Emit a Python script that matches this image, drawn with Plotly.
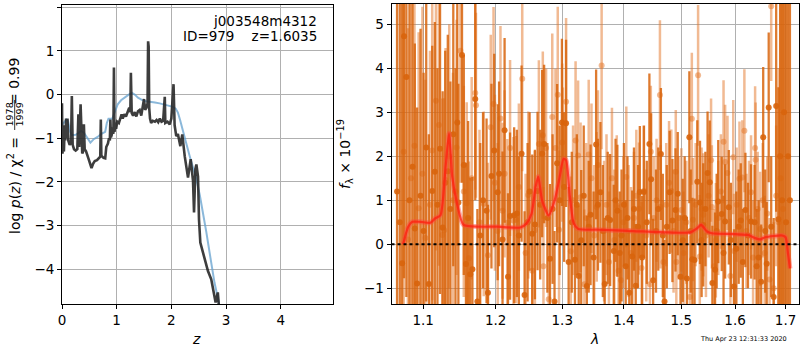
import plotly.graph_objects as go
import math

# ---------------- left panel: redshift probability ----------------
z_pz = [0.000, 0.008, 0.02, 0.035, 0.05, 0.06, 0.075, 0.085, 0.10, 0.115, 0.14, 0.165, 0.18, 0.195,
        0.22, 0.25, 0.28, 0.30, 0.315, 0.34, 0.355, 0.37, 0.385, 0.40, 0.415, 0.44, 0.48, 0.52, 0.54,
        0.57, 0.60, 0.64, 0.68, 0.70, 0.71, 0.72, 0.76, 0.79, 0.81, 0.84, 0.86, 0.875, 0.885, 0.895,
        0.91, 0.925, 0.94, 0.95, 0.96, 0.975, 0.99, 1.01, 1.04, 1.06, 1.09, 1.11, 1.14, 1.17, 1.20,
        1.23, 1.25, 1.26, 1.275, 1.30, 1.33, 1.36, 1.39, 1.42, 1.45, 1.48, 1.50, 1.52, 1.545, 1.565,
        1.575, 1.585, 1.595, 1.61, 1.63, 1.66, 1.70, 1.73, 1.76, 1.79, 1.82, 1.85, 1.88, 1.89, 1.93,
        1.97, 2.00, 2.04, 2.06, 2.09, 2.12, 2.165, 2.20, 2.245, 2.305, 2.354, 2.397, 2.415, 2.44,
        2.458, 2.488, 2.506, 2.53, 2.58, 2.62, 2.67, 2.73, 2.775, 2.81, 2.85, 2.87, 2.90]
logp = [-0.20, -1.35, -1.20, -1.30, -0.70, -1.05, -0.55, -1.00, -0.55, -1.05, -1.15, -1.10, -0.03, -1.15,
        -1.25, -1.28, -1.25, -0.45, -1.20, -0.22, -1.00, -1.35, -1.30, -0.68, -1.25, -1.30, -1.45, -1.62, -1.68,
        -1.58, -1.52, -1.50, -1.45, -1.42, -0.57, -1.40, -1.45, -1.46, -1.20, -1.12, -1.00, -1.05, -0.57, -0.98,
        -0.92, -0.75, -0.90, 0.62, -0.85, -0.70, -0.78, -0.62, -0.65, -0.55, -0.45, -0.55, -0.45, -0.50, -0.40,
        -0.30, -0.40, 0.50, -0.42, -0.48, -0.40, -0.50, -0.38, -0.35, -0.48, -0.28, -0.10, -0.35, -0.30, -0.20,
        1.22, 1.10, -0.30, -0.55, -0.65, -0.60, -0.62, -0.58, -0.63, -0.55, -0.62, -0.60, -0.05, -0.65, -0.62,
        -0.68, -0.55, 0.24, -0.70, -0.95, -0.90, -1.18, -0.91, -1.41, -1.90, -1.48, -1.98, -2.70, -1.70,
        -1.60, -1.88, -2.86, -3.39, -3.62, -3.85, -4.04, -4.23, -4.53, -4.76, -4.53, -5.00, -5.30]

z_prior = [0.0, 0.04, 0.08, 0.11, 0.15, 0.18, 0.25, 0.30, 0.35, 0.40, 0.45, 0.52, 0.58, 0.65, 0.72, 0.79,
           0.82, 0.85, 0.92, 0.97, 1.02, 1.08, 1.14, 1.22, 1.28, 1.33, 1.39, 1.46, 1.54, 1.62, 1.70, 1.787,
           1.87, 1.95, 2.03, 2.08, 2.12, 2.16, 2.21, 2.27, 2.336, 2.40, 2.458, 2.52, 2.58, 2.64, 2.70, 2.75,
           2.79, 2.85, 2.90, 2.95]
logp_prior = [-0.70, -0.62, -0.57, -0.60, -0.85, -0.93, -0.92, -0.88, -0.83, -0.87, -0.98, -1.10, -1.02,
              -0.97, -0.90, -0.85, -0.65, -0.55, -0.55, -0.38, -0.22, -0.13, -0.07, 0.00, 0.04, 0.00, -0.07,
              -0.12, -0.15, -0.16, -0.18, -0.20, -0.23, -0.26, -0.28, -0.32, -0.41, -0.58, -0.79, -1.10,
              -1.41, -1.68, -1.94, -2.30, -2.70, -3.15, -3.62, -4.00, -4.31, -4.65, -4.92, -5.30]

# ---------------- right panel: spectrum ----------------
wave_a = [1.066, 1.0695, 1.0725, 1.075, 1.078, 1.082, 1.086, 1.089, 1.092, 1.0965, 1.1005, 1.104, 1.1075,
          1.112, 1.1155, 1.119, 1.1225, 1.126, 1.1295, 1.133, 1.1365, 1.1405, 1.1435, 1.146, 1.1475, 1.1525,
          1.155, 1.158, 1.161, 1.164, 1.167, 1.171, 1.174, 1.178, 1.182, 1.187, 1.189, 1.194, 1.198, 1.203,
          1.205, 1.210, 1.213, 1.218, 1.221, 1.227, 1.231, 1.234, 1.238, 1.2425, 1.247, 1.250, 1.254, 1.258,
          1.262, 1.266, 1.269, 1.272, 1.277, 1.281, 1.285, 1.288, 1.292, 1.296, 1.2995, 1.303, 1.306, 1.310,
          1.315, 1.320, 1.323, 1.326, 1.330, 1.334, 1.339, 1.342, 1.345, 1.350, 1.354, 1.357, 1.361, 1.365,
          1.368, 1.373, 1.377, 1.383, 1.386, 1.389, 1.393, 1.396, 1.400, 1.403, 1.406, 1.409, 1.414, 1.417,
          1.420, 1.424, 1.427, 1.431, 1.434, 1.439, 1.4435, 1.4465, 1.450, 1.455, 1.459, 1.4636, 1.467, 1.470,
          1.474, 1.479, 1.484, 1.4895, 1.4935, 1.4985, 1.5025, 1.506, 1.510, 1.5145, 1.517, 1.520, 1.524,
          1.529, 1.534, 1.537, 1.540, 1.544, 1.548, 1.552, 1.557, 1.562, 1.565, 1.568, 1.5745, 1.578, 1.581,
          1.588, 1.592, 1.598, 1.6025, 1.607, 1.611, 1.615, 1.620, 1.625, 1.631, 1.638, 1.642, 1.646, 1.651,
          1.655, 1.659, 1.662, 1.666, 1.671, 1.676, 1.681, 1.6855, 1.689, 1.693, 1.697, 1.701, 1.705, 1.709]
flux_a = [1.2, 0.5, -0.43, 4.73, 3.80, 1.0, 1.76, 0.36, -0.89, 1.1, 0.3, 2.2, -0.90,
          1.21, 1.65, 0.9, 2.17, 0.38, 1.4, 1.66, 0.8, 2.50, 1.2, 2.77, 0.95, 4.30,
          1.8, -0.45, 0.6, -0.68, -0.57, 3.30, -1.30, 0.2, 1.0, 0.76, -1.10, 1.55, 2.13, 1.18,
          1.60, 0.11, 2.59, -0.74, 0.64, 0.66, 0.70, 0.2, 2.06, -1.15, 0.5, 1.2, 0.24, 0.45,
          1.21, 0.9, 2.06, 2.28, 0.6, -0.33, 0.8, -1.30, 1.84, 1.0, 2.77, 1.3, 2.75, -0.40,
          0.5, -0.35, 0.9, -0.72, 0.09, 1.1, -0.95, 0.4, 0.67, -0.30, 2.27, 0.9, 1.18, 0.3,
          -0.90, 0.6, 0.55, -0.15, 1.0, 0.76, -0.2, 0.20, 0.9, -0.50, 0.6, -1.10, -0.28, 0.8,
          -0.94, 0.4, 1.19, -0.3, 1.19, 0.5, 2.28, 1.48, -0.82, 0.3, 0.8, 2.05, 0.2, -1.30,
          0.4, 1.18, 0.54, 0.78, 1.15, -0.74, 0.09, 0.6, -0.78, 2.43, 0.3, -0.34, -0.36,
          1.42, 0.95, 0.1, 0.44, 0.8, 1.62, 1.41, -0.88, -0.58, 0.3, 0.97, 0.69, -0.2, 0.52,
          0.84, 0.1, -0.96, -0.10, 0.4, 0.54, -0.4, 0.78, 0.2, 0.52, 0.50, -0.5, -0.30, -0.85,
          2.43, 0.3, -0.44, 3.11, 0.4, -1.2, 3.14, 0.57, 2.0, 1.0, 3.0, 0.5, 2.0, 1.0]
err_a = [7.0, 6.5, 6.0, 5.5, 5.0, 4.8, 4.5, 4.2, 4.0, 3.8, 3.6, 3.5, 3.4,
         3.3, 3.4, 3.1, 3.3, 3.1, 3.0, 3.1, 2.9, 3.0, 2.8, 2.8, 2.7, 2.9,
         2.5, 2.3, 2.2, 2.2, 2.1, 2.3, 2.1, 2.1, 2.0, 2.1, 2.0, 2.1, 2.2, 2.0,
         2.1, 2.0, 2.1, 1.9, 1.9, 2.0, 1.9, 1.8, 2.0, 1.9, 1.8, 1.8, 1.8, 1.7,
         1.8, 1.7, 1.9, 1.8, 1.7, 1.7, 1.7, 1.6, 1.8, 1.7, 1.9, 1.7, 1.9, 1.7,
         1.6, 1.6, 1.6, 1.6, 1.6, 1.6, 1.6, 1.5, 1.6, 1.5, 1.7, 1.5, 1.6, 1.5,
         1.5, 1.5, 1.5, 1.5, 1.4, 1.5, 1.4, 1.5, 1.4, 1.5, 1.4, 1.4, 1.5, 1.4,
         1.4, 1.4, 1.5, 1.4, 1.5, 1.4, 1.6, 1.5, 1.4, 1.4, 1.4, 1.5, 1.4, 1.4,
         1.4, 1.4, 1.4, 1.4, 1.4, 1.4, 1.4, 1.4, 1.4, 1.5, 1.4, 1.4, 1.4,
         1.4, 1.4, 1.3, 1.4, 1.3, 1.4, 1.4, 1.3, 1.3, 1.3, 1.4, 1.3, 1.3, 1.3,
         1.3, 1.3, 1.3, 1.3, 1.3, 1.3, 1.2, 1.3, 1.2, 1.3, 1.3, 1.3, 1.3, 1.3,
         1.6, 1.4, 1.4, 1.7, 1.6, 1.8, 2.4, 3.0, 6.0, 7.0, 7.0, 8.0, 8.0, 8.0]

wave_b = [1.0745, 1.080, 1.084, 1.0885, 1.094, 1.099, 1.103, 1.109, 1.112, 1.117, 1.121, 1.1255, 1.128,
          1.130, 1.135, 1.140, 1.145, 1.1503, 1.155, 1.159, 1.162, 1.166, 1.171, 1.172, 1.177, 1.183, 1.189,
          1.193, 1.197, 1.199, 1.203, 1.207, 1.210, 1.213, 1.217, 1.221, 1.226, 1.230, 1.234, 1.239, 1.244,
          1.248, 1.254, 1.258, 1.264, 1.270, 1.271, 1.275, 1.279, 1.2845, 1.2895, 1.293, 1.295, 1.300, 1.301,
          1.306, 1.3135, 1.317, 1.321, 1.325, 1.329, 1.335, 1.338, 1.342, 1.3465, 1.351, 1.355, 1.357, 1.363,
          1.367, 1.371, 1.375, 1.380, 1.384, 1.388, 1.391, 1.395, 1.399, 1.404, 1.408, 1.412, 1.417, 1.421,
          1.4255, 1.430, 1.434, 1.438, 1.4445, 1.446, 1.451, 1.456, 1.4619, 1.463, 1.468, 1.473, 1.478, 1.482,
          1.486, 1.490, 1.491, 1.495, 1.500, 1.504, 1.509, 1.5153, 1.519, 1.521, 1.526, 1.5305, 1.5336, 1.537,
          1.540, 1.545, 1.550, 1.5545, 1.556, 1.560, 1.5635, 1.568, 1.573, 1.578, 1.581, 1.5855, 1.591, 1.5965,
          1.598, 1.603, 1.6085, 1.614, 1.618, 1.622, 1.627, 1.631, 1.635, 1.639, 1.640, 1.644, 1.649, 1.654,
          1.658, 1.663, 1.6677, 1.671, 1.676, 1.681, 1.686, 1.690, 1.695]
flux_b = [2.10, 0.11, 1.5, 2.24, 0.82, 1.6, 0.14, 0.90, 2.13, 3.26, 2.71, 0.21, 0.32,
          1.46, 2.0, 1.0, 2.2, 4.40, 1.2, 0.93, -0.32, 1.5, 3.44, 3.16, 0.5, 0.92, -0.25,
          2.66, 3.19, 1.40, 0.3, 2.86, 0.76, 1.6, 0.49, 2.19, 0.54, 0.56, 1.3, 3.76, -0.20,
          1.12, -0.60, 0.32, 2.28, 2.48, -0.50, 2.19, -1.25, 2.89, 2.19, 3.40, 0.33, 2.31, 1.76,
          3.24, -0.16, 1.0, 2.36, 2.02, 1.07, -0.91, 0.6, 2.04, 1.50, 0.2, 0.85, 1.80, 4.06,
          0.3, 0.9, -0.4, 1.50, 0.1, 0.88, -0.6, -0.82, 0.5, 1.53, 0.3, -0.2, 0.6, 1.1,
          0.81, -0.54, 1.21, 0.2, -0.91, 2.10, 0.6, 1.0, 3.39, 0.85, -0.4, 0.9, 1.40, 1.21,
          0.3, 1.65, -0.40, 0.6, 0.78, -0.2, 0.5, -1.20, 2.85, 0.56, 0.9, 3.84, -0.28, 0.8,
          0.67, 0.2, 1.1, 1.91, 0.85, -0.5, 0.09, 0.6, 1.2, 2.33, 1.87, 1.62, -0.72, 1.98,
          -0.15, 0.9, 1.49, 1.52, 2.58, 0.3, 0.6, 1.18, -0.3, 2.19, 1.92, 0.8, 0.35, 1.0,
          -0.2, 0.7, -0.80, 5.41, -1.00, 1.10, 0.5, 1.5, 0.8]
err_b = [5.0, 4.8, 4.5, 4.3, 4.0, 3.8, 3.6, 3.5, 3.4, 3.4, 3.2, 3.1, 3.0,
         3.0, 3.0, 2.9, 2.9, 3.0, 2.4, 2.3, 2.2, 2.3, 2.2, 2.1, 2.1, 2.1, 2.1,
         2.1, 2.2, 2.0, 2.0, 2.1, 2.0, 1.9, 1.9, 2.0, 1.9, 1.9, 1.9, 2.1, 1.8,
         1.9, 1.8, 1.8, 1.9, 1.9, 1.8, 1.8, 1.8, 1.9, 1.8, 2.0, 1.8, 1.8, 1.8,
         1.9, 1.7, 1.7, 1.8, 1.7, 1.7, 1.7, 1.7, 1.7, 1.7, 1.6, 1.7, 1.7, 1.9,
         1.6, 1.6, 1.6, 1.6, 1.6, 1.6, 1.5, 1.6, 1.5, 1.6, 1.5, 1.5, 1.5, 1.5,
         1.5, 1.5, 1.5, 1.5, 1.5, 1.5, 1.4, 1.4, 1.7, 1.4, 1.4, 1.4, 1.4, 1.4,
         1.4, 1.4, 1.4, 1.4, 1.4, 1.4, 1.4, 1.4, 1.5, 1.4, 1.4, 1.6, 1.4, 1.4,
         1.4, 1.4, 1.4, 1.4, 1.4, 1.3, 1.3, 1.3, 1.3, 1.4, 1.3, 1.3, 1.3, 1.3,
         1.3, 1.3, 1.3, 1.3, 1.4, 1.3, 1.3, 1.3, 1.3, 1.4, 1.3, 1.3, 1.3, 1.3,
         1.3, 1.3, 1.4, 1.7, 1.5, 1.6, 3.5, 4.5, 6.0]

wave_model = [1.0738, 1.0804, 1.0857, 1.0965, 1.1095, 1.116, 1.123, 1.130, 1.1347, 1.139, 1.1456, 1.1546,
              1.178, 1.202, 1.236, 1.2457, 1.253, 1.259, 1.263, 1.269, 1.279, 1.288, 1.295, 1.302, 1.306,
              1.312, 1.318, 1.325, 1.359, 1.416, 1.476, 1.516, 1.5285, 1.536, 1.547, 1.556, 1.600, 1.626,
              1.639, 1.649, 1.659, 1.693, 1.700, 1.705, 1.709]
flux_model = [0.00, 0.40, 0.51, 0.51, 0.49, 0.59, 0.66, 1.76, 2.52, 1.54, 0.93, 0.44,
              0.40, 0.40, 0.38, 0.48, 0.70, 1.30, 1.54, 0.99, 0.66, 0.99, 1.45, 1.94, 1.91,
              1.08, 0.48, 0.35, 0.33, 0.30, 0.27, 0.27, 0.36, 0.44, 0.29, 0.25, 0.23, 0.21,
              0.14, 0.11, 0.16, 0.20, 0.16, -0.20, -0.55]

assert len(wave_a) == len(flux_a) == len(err_a), (len(wave_a), len(flux_a), len(err_a))
assert len(wave_b) == len(flux_b) == len(err_b), (len(wave_b), len(flux_b), len(err_b))
assert len(z_pz) == len(logp) and len(z_prior) == len(logp_prior)
assert len(wave_model) == len(flux_model)

x_ticks_right = [1.1, 1.2, 1.3, 1.4, 1.5, 1.6, 1.7]
x_ticks_left = [0, 1, 2, 3, 4]
y_ticks_left = [-4, -3, -2, -1, 0, 1, 2]
y_ticks_right = [-1, 0, 1, 2, 3, 4, 5]

W, H = 800, 350
def px(x):
    return x / W
def py(y):
    return 1 - y / H

FONT = "DejaVu Sans"
DARK = "rgb(216,100,12)"
LIGHT = "rgba(228,118,40,0.5)"

fig = go.Figure()

fig.add_trace(go.Scatter(x=z_prior, y=logp_prior, mode="lines",
                         line=dict(color="rgba(100,160,205,0.75)", width=2),
                         xaxis="x", yaxis="y", showlegend=False))
fig.add_trace(go.Scatter(x=z_pz, y=logp, mode="lines",
                         line=dict(color="rgba(40,40,40,0.9)", width=2.6),
                         xaxis="x", yaxis="y", showlegend=False))

fig.add_trace(go.Scatter(x=wave_b, y=flux_b, mode="markers",
                         marker=dict(color=LIGHT, size=6),
                         error_y=dict(type="data", array=err_b, color=LIGHT, thickness=2.5, width=0),
                         xaxis="x2", yaxis="y2", showlegend=False))
fig.add_trace(go.Scatter(x=wave_a, y=flux_a, mode="markers",
                         marker=dict(color=DARK, size=6, opacity=0.9),
                         error_y=dict(type="data", array=err_a, color="rgba(216,100,12,0.85)", thickness=2.3, width=0),
                         xaxis="x2", yaxis="y2", showlegend=False))
fig.add_trace(go.Scatter(x=wave_model, y=flux_model, mode="lines",
                         line=dict(color="rgba(255,70,60,0.45)", width=5, shape="spline", smoothing=0.6),
                         xaxis="x2", yaxis="y2", showlegend=False))
fig.add_trace(go.Scatter(x=wave_model, y=flux_model, mode="lines",
                         line=dict(color="rgba(255,30,15,0.75)", width=2.2, shape="spline", smoothing=0.6),
                         xaxis="x2", yaxis="y2", showlegend=False))

axis_common = dict(showgrid=True, gridcolor="#b0b0b0", gridwidth=1, zeroline=False,
                   showline=True, linecolor="black", linewidth=1, mirror=True,
                   ticks="outside", ticklen=4, tickcolor="black", automargin=False,
                   tickfont=dict(family=FONT, size=13.5, color="black"))

fig.update_layout(
    width=W, height=H, margin=dict(l=0, r=0, t=0, b=0, autoexpand=False),
    paper_bgcolor="white", plot_bgcolor="white",
    font=dict(family=FONT, color="black"),
    xaxis=dict(domain=[px(62), px(333)], range=[0, 4.957], tickvals=x_ticks_left,
               anchor="y", **axis_common),
    yaxis=dict(domain=[py(304), py(5)], range=[-4.795, 2.053], tickvals=y_ticks_left,
               anchor="x", **axis_common),
    xaxis2=dict(domain=[px(391.5), px(798.5)], type="log",
                range=[math.log10(1.0589), math.log10(1.7267)],
                tickvals=x_ticks_right, ticktext=[str(v) for v in x_ticks_right],
                anchor="y2", **axis_common),
    yaxis2=dict(domain=[py(304), py(4)], range=[-1.357, 5.46], tickvals=y_ticks_right,
                anchor="x2", **axis_common),
)

fig.add_shape(type="line", xref="x2 domain", x0=0, x1=1, yref="y2", y0=0, y1=0,
              line=dict(color="black", width=2, dash="dot"))

ann = []
ann.append(dict(text="j003548m4312", x=px(319), y=py(21), xanchor="right", yanchor="middle",
                font=dict(size=13.5)))
ann.append(dict(text="ID=979\u00a0\u00a0\u00a0\u00a0z=1.6035", x=px(319), y=py(36), xanchor="right",
                yanchor="middle", font=dict(size=13.5)))
# left y title (with stacked fraction)
ann.append(dict(text="log <i>p</i>(<i>z</i>) / χ<sup>2</sup> =", x=px(14), y=py(186), textangle=-90,
                xanchor="center", yanchor="middle", font=dict(size=14)))
ann.append(dict(text="1978", x=px(9.5), y=py(115), textangle=-90, xanchor="center", yanchor="middle",
                font=dict(size=9.5)))
ann.append(dict(text="1999", x=px(19.5), y=py(115), textangle=-90, xanchor="center", yanchor="middle",
                font=dict(size=9.5)))
ann.append(dict(text="= 0.99", x=px(14), y=py(82), textangle=-90,
                xanchor="center", yanchor="middle", font=dict(size=14)))
ann.append(dict(text="<i>f</i><sub>λ</sub> × 10<sup>−19</sup>", x=px(345), y=py(154), textangle=-90,
                xanchor="center", yanchor="middle", font=dict(size=14)))
ann.append(dict(text="<i>z</i>", x=px(196), y=py(339), xanchor="center", yanchor="middle",
                font=dict(size=14)))
ann.append(dict(text="<i>λ</i>", x=px(594), y=py(339), xanchor="center", yanchor="middle",
                font=dict(size=14)))
ann.append(dict(text="Thu Apr 23 12:31:33 2020", x=px(743), y=py(339), xanchor="center",
                yanchor="middle", font=dict(size=6.5)))
for a in ann:
    a.update(xref="paper", yref="paper", showarrow=False)
fig.update_layout(annotations=ann)
fig.add_shape(type="line", xref="paper", yref="paper", x0=px(14.7), x1=px(14.7), y0=py(100), y1=py(130),
              line=dict(color="black", width=0.8))

fig.write_html("out.html", config={"displayModeBar": False},
               post_script="document.body.style.margin='0';")
